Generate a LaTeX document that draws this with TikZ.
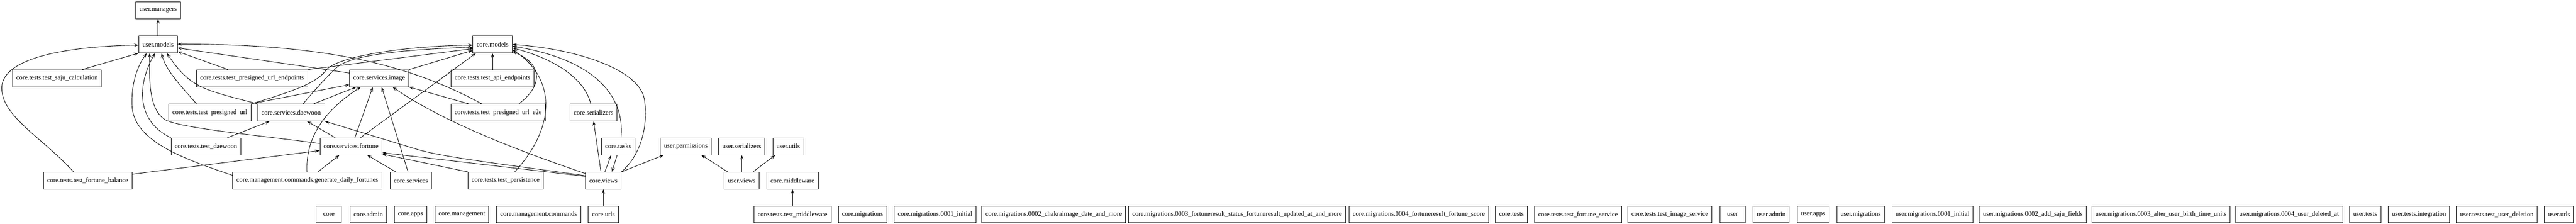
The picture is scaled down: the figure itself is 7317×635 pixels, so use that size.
\documentclass[tikz,border=0pt]{standalone}
\usepackage{fontspec}
\setmainfont{Liberation Serif}
\usetikzlibrary{arrows.meta}
\begin{document}
\begin{tikzpicture}[x=0.75pt,y=-0.75pt,
  box/.style={draw,line width=1pt,font=\fontsize{14pt}{16pt}\selectfont,minimum height=36pt,minimum width=54pt,inner xsep=7.9pt,inner ysep=0pt},
  e/.style={line width=1pt,-{Stealth[length=10pt,width=7pt,inset=5pt]}}]
\useasboundingbox (0,0) rectangle (7317,635);
% rank 0/1
\node[box] (umanagers) at (449,29) {user.managers};
\node[box] (umodels) at (449,126) {user.models};
\node[box] (cmodels) at (1399,126) {core.models};
% rank 2
\node[box] (saju) at (162,222) {core.tests.test\_saju\_calculation};
\node[box] (endpoints) at (716,222) {core.tests.test\_presigned\_url\_endpoints};
\node[box] (image) at (1077,222) {core.services.image};
\node[box] (apiend) at (1399,222) {core.tests.test\_api\_endpoints};
% rank 3
\node[box] (tpurl) at (596,319) {core.tests.test\_presigned\_url};
\node[box] (daewoon) at (827,319) {core.services.daewoon};
\node[box] (e2e) at (1415,319) {core.tests.test\_presigned\_url\_e2e};
\node[box] (serializers) at (1686,319) {core.serializers};
% rank 4
\node[box] (tdaewoon) at (585,415) {core.tests.test\_daewoon};
\node[box] (fortune) at (997,415) {core.services.fortune};
\node[box] (tasks) at (1756,415) {core.tasks};
\node[box] (uperm) at (1948,415) {user.permissions};
\node[box] (userial) at (2107,415) {user.serializers};
\node[box] (uutils) at (2239,415) {user.utils};
% rank 5
\node[box] (balance) at (249,512) {core.tests.test\_fortune\_balance};
\node[box] (gendaily) at (873,512) {core.management.commands.generate\_daily\_fortunes};
\node[box] (services) at (1167,512) {core.services};
\node[box] (persist) at (1436,512) {core.tests.test\_persistence};
\node[box] (views) at (1714,512) {core.views};
\node[box] (uviews) at (2107,512) {user.views};
\node[box] (middleware) at (2251,512) {core.middleware};
% rank 6
\node[box] (core) at (934,608) {core};
\node[box] (cadmin) at (1046,608) {core.admin};
\node[box] (capps) at (1166,608) {core.apps};
\node[box] (cmgmt) at (1312,608) {core.management};
\node[box] (cmgmtcmd) at (1530,608) {core.management.commands};
\node[box] (urls) at (1714,608) {core.urls};
\node[box] (tmiddleware) at (2251,608) {core.tests.test\_middleware};
\node[box] (cmig) at (2450,608) {core.migrations};
\node[box] (cmig1) at (2656,608) {core.migrations.0001\_initial};
\node[box] (cmig2) at (2993,608) {core.migrations.0002\_chakraimage\_date\_and\_more};
\node[box] (cmig3) at (3514,608) {core.migrations.0003\_fortuneresult\_status\_fortuneresult\_updated\_at\_and\_more};
\node[box] (cmig4) at (4030,608) {core.migrations.0004\_fortuneresult\_fortune\_score};
\node[box] (ctests) at (4293,608) {core.tests};
\node[box] (tfortune) at (4482,608) {core.tests.test\_fortune\_service};
\node[box] (timage) at (4743,608) {core.tests.test\_image\_service};
\node[box] (user) at (4921,608) {user};
\node[box] (uadmin) at (5031,608) {user.admin};
\node[box] (uapps) at (5150,608) {user.apps};
\node[box] (umig) at (5285,608) {user.migrations};
\node[box] (umig1) at (5489,608) {user.migrations.0001\_initial};
\node[box] (umig2) at (5774,608) {user.migrations.0002\_add\_saju\_fields};
\node[box] (umig3) at (6138,608) {user.migrations.0003\_alter\_user\_birth\_time\_units};
\node[box] (umig4) at (6502,608) {user.migrations.0004\_user\_deleted\_at};
\node[box] (utests) at (6718,608) {user.tests};
\node[box] (uinteg) at (6871,608) {user.tests.integration};
\node[box] (udel) at (7092,608) {user.tests.test\_user\_deletion};
\node[box] (uurls) at (7269,608) {user.urls};
% edges
\draw[e] (umodels.north) -- (umanagers.south);
\draw[e] (saju.north -| 233,0) -- (umodels.south west);
\draw[e] (balance.north -| 209,0) .. controls (120,390) and (5,330) .. (5,250) .. controls (5,150) and (250,130) .. (umodels.west |- 0,128);
\draw[e] (balance.east |- 0,494) -- (fortune.west |- 0,427);
\draw[e] (endpoints.north -| 648,0) -- (umodels.east |- 0,146);
\draw[e] (endpoints.north east) -- (cmodels.west |- 0,138);
\draw[e] (image.west |- 0,207) -- (umodels.east |- 0,136);
\draw[e] (e2e.north -| 1368,0) .. controls (1150,175) and (900,125) .. (umodels.east |- 0,125);
\draw[e] (tpurl.north -| 558,0) .. controls (520,250) and (470,200) .. (umodels.south -| 459,0);
\draw[e] (tpurl.north east) -- (image.west |- 0,240);
\draw[e] (tpurl.north east) .. controls (830,260) and (900,235) .. (925,200) .. controls (955,160) and (1150,130) .. (cmodels.west |- 0,128);
\draw[e] (daewoon.north west) .. controls (580,255) and (540,250) .. (umodels.south -| 474,0);
\draw[e] (daewoon.north -| 891,0) -- (image.south -| 1012,0);
\draw[e] (daewoon.north -| 861,0) .. controls (890,260) and (930,215) .. (958,190) .. controls (1000,155) and (1150,140) .. (cmodels.west |- 0,134);
\draw[e] (tdaewoon.north west) .. controls (400,350) and (380,260) .. (umodels.south -| 440,0);
\draw[e] (tdaewoon.north -| 646,0) -- (daewoon.south -| 766,0);
\draw[e] (fortune.west |- 0,407) .. controls (750,385) and (520,365) .. (470,340) .. controls (420,310) and (425,220) .. (umodels.south -| 425,0);
\draw[e] (gendaily.west |- 0,497) .. controls (520,450) and (380,400) .. (375,300) .. controls (372,230) and (395,180) .. (umodels.south -| 417,0);
\draw[e] (gendaily.north -| 903,0) -- (fortune.south -| 964,0);
\draw[e] (gendaily.north -| 872,0) .. controls (868,400) and (910,320) .. (image.south -| 1025,0);
\draw[e] (fortune.north -| 952,0) -- (daewoon.south -| 872,0);
\draw[e] (fortune.north -| 1008,0) -- (image.south -| 1059,0);
\draw[e] (fortune.north -| 1024,0) -- (cmodels.south -| 1352,0);
\draw[e] (services.north -| 1124,0) -- (fortune.south -| 1043,0);
\draw[e] (services.north -| 1159,0) -- (image.south -| 1084,0);
\draw[e] (image.north east) -- (cmodels.west |- 0,143);
\draw[e] (views.west |- 0,498) .. controls (1400,462) and (1260,445) .. (1190,425) -- (daewoon.south east);
\draw[e] (views.west |- 0,500) -- (fortune.east |- 0,433);
\draw[e] (persist.north west) -- (fortune.east |- 0,437);
\draw[e] (e2e.north -| 1331,0) -- (image.south east);
\draw[e] (views.west |- 0,492) .. controls (1450,420) and (1250,340) .. (image.south -| 1115,0);
\draw[e] (e2e.north -| 1474,0) .. controls (1545,240) and (1540,180) .. (cmodels.east |- 0,146);
\draw[e] (persist.north -| 1462,0) .. controls (1580,360) and (1580,220) .. (cmodels.east |- 0,141);
\draw[e] (apiend) -- (cmodels);
\draw[e] (serializers.north -| 1678,0) .. controls (1660,220) and (1570,165) .. (cmodels.east |- 0,136);
\draw[e] (tasks.north -| 1764,0) .. controls (1775,280) and (1700,170) .. (cmodels.east |- 0,131);
\draw[e] (views.north east) .. controls (1830,430) and (1840,340) .. (1830,280) .. controls (1815,200) and (1650,140) .. (cmodels.east |- 0,126);
\draw[e] (views.north -| 1707,0) -- (serializers.south -| 1686,0);
\draw[e] (views.north -| 1718,0) -- (tasks.south -| 1736,0);
\draw[e] (tasks.south -| 1753,0) -- (views.north -| 1738,0);
\draw[e] (views.north east) -- (uperm.south -| 1885,0);
\draw[e] (uviews.north -| 2067,0) -- (uperm.south -| 1992,0);
\draw[e] (uviews) -- (userial);
\draw[e] (uviews.north -| 2139,0) -- (uutils.south -| 2202,0);
\draw[e] (tmiddleware) -- (middleware);
\draw[e] (urls) -- (views);
\end{tikzpicture}
\end{document}
